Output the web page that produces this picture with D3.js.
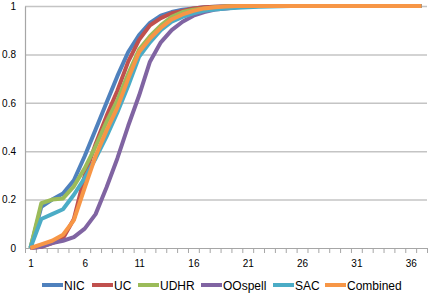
<!DOCTYPE html>
<html><head><meta charset="utf-8">
<script src="https://cdn.jsdelivr.net/npm/d3@7/dist/d3.min.js"></script>
<style>
html,body{margin:0;padding:0;background:#fff;}
svg{display:block;font-family:"Liberation Sans",Arial,sans-serif;}
</style></head>
<body>
<svg id="chart" width="430" height="296"></svg>
<script>
const categories = [1,2,3,4,5,6,7,8,9,10,11,12,13,14,15,16,17,18,19,20,21,22,23,24,25,26,27,28,29,30,31,32,33,34,35,36,37];
const xTickLabels = [1,6,11,16,21,26,31,36];
const yTicks = [0,0.2,0.4,0.6,0.8,1];
const seriesNames = ["NIC","UC","UDHR","OOspell","SAC","Combined"];
const seriesColors = ["#4F81BD","#C0504D","#9BBB59","#8064A2","#4BACC6","#F79646"];

const NIC = [0,0.17,0.2,0.225,0.28,0.38,0.49,0.6,0.71,0.81,0.88,0.93,0.96,0.975,0.985,0.99,0.995,0.997,0.998,0.999,1,1,1,1,1,1,1,1,1,1,1,1,1,1,1,1,1];
const UC = [0,0.005,0.02,0.04,0.12,0.3,0.43,0.545,0.65,0.77,0.86,0.92,0.95,0.97,0.98,0.99,0.995,0.997,0.999,1,1,1,1,1,1,1,1,1,1,1,1,1,1,1,1,1,1];
const UDHR = [0,0.185,0.2,0.205,0.255,0.33,0.42,0.52,0.61,0.72,0.82,0.875,0.92,0.955,0.975,0.985,0.99,0.995,0.998,1,1,1,1,1,1,1,1,1,1,1,1,1,1,1,1,1,1];
const OOspell = [0,0.005,0.02,0.03,0.045,0.08,0.14,0.25,0.37,0.505,0.63,0.77,0.85,0.9,0.935,0.96,0.975,0.985,0.99,0.995,0.998,1,1,1,1,1,1,1,1,1,1,1,1,1,1,1,1];
const SAC = [0,0.12,0.14,0.16,0.22,0.29,0.37,0.46,0.56,0.67,0.79,0.85,0.9,0.935,0.955,0.97,0.98,0.985,0.99,0.993,0.995,0.997,0.998,0.999,1,1,1,1,1,1,1,1,1,1,1,1,1];
const Combined = [0,0.015,0.03,0.055,0.115,0.25,0.38,0.485,0.58,0.7,0.81,0.865,0.91,0.945,0.965,0.98,0.99,0.995,0.998,1,1,1,1,1,1,1,1,1,1,1,1,1,1,1,1,1,1];

const seriesValues = [NIC,UC,UDHR,OOspell,SAC,Combined];

const svg = d3.select("#chart");
const L = 25, R = 427, T = 6, B = 248;

const x = d3.scalePoint().domain(categories).range([L,R]).padding(0.5);
const xEdge = d3.scaleLinear().domain([0,categories.length]).range([L,R]);
const y = d3.scaleLinear().domain([0,1]).range([B,T]);

// gridlines
const grid = svg.append("g").attr("transform",`translate(${L},0)`)
  .call(d3.axisLeft(y).tickValues(yTicks.filter(d=>d>0)).tickSize(-(R-L)).tickFormat(""));
grid.select(".domain").remove();
grid.selectAll("line").attr("stroke","#c4c4c4").attr("stroke-width",1.5);

// y axis
const yAx = svg.append("g").attr("transform",`translate(${L},0)`)
  .call(d3.axisLeft(y).tickValues(yTicks).tickSize(0).tickPadding(9)
    .tickFormat(d => d===0 ? "0" : d===1 ? "1" : d3.format(".1f")(d)));
yAx.select(".domain").attr("stroke","#a6a6a6").attr("stroke-width",1.2);
yAx.selectAll("text").attr("font-size",10).attr("fill","#000").attr("font-family","Liberation Sans, Arial, sans-serif");

// x axis tick marks
const xTk = svg.append("g").attr("transform",`translate(0,${B})`)
  .call(d3.axisBottom(xEdge).tickValues(d3.range(0,categories.length+1)).tickSize(5).tickFormat(""));
xTk.select(".domain").attr("stroke","#a6a6a6").attr("stroke-width",1.2).attr("d",`M${L},0.5H${R}`);
xTk.selectAll("line").attr("stroke","#a6a6a6");

// x labels
const xLab = svg.append("g").attr("transform",`translate(0,${B})`)
  .call(d3.axisBottom(x).tickValues(xTickLabels).tickSize(0).tickPadding(12));
xLab.select(".domain").remove();
xLab.selectAll("text").attr("font-size",10).attr("fill","#000").attr("font-family","Liberation Sans, Arial, sans-serif");

// lines
const line = d3.line().x((d,i)=>x(categories[i])).y(d=>y(d));
seriesValues.forEach((vals,k)=>{
  svg.append("path").datum(vals)
    .attr("fill","none").attr("stroke",seriesColors[k]).attr("stroke-width",4)
    .attr("stroke-linejoin","round").attr("stroke-linecap","butt")
    .attr("d",line);
});

// legend
const legendX = [42,92,138,201,273,325];
const lg = svg.append("g");
seriesNames.forEach((n,k)=>{
  lg.append("line").attr("x1",legendX[k]).attr("x2",legendX[k]+21).attr("y1",285).attr("y2",285)
    .attr("stroke",seriesColors[k]).attr("stroke-width",4);
  lg.append("text").attr("x",legendX[k]+22).attr("y",289.5).attr("font-size",12).attr("fill","#000")
    .text(n);
});
</script>
</body></html>
